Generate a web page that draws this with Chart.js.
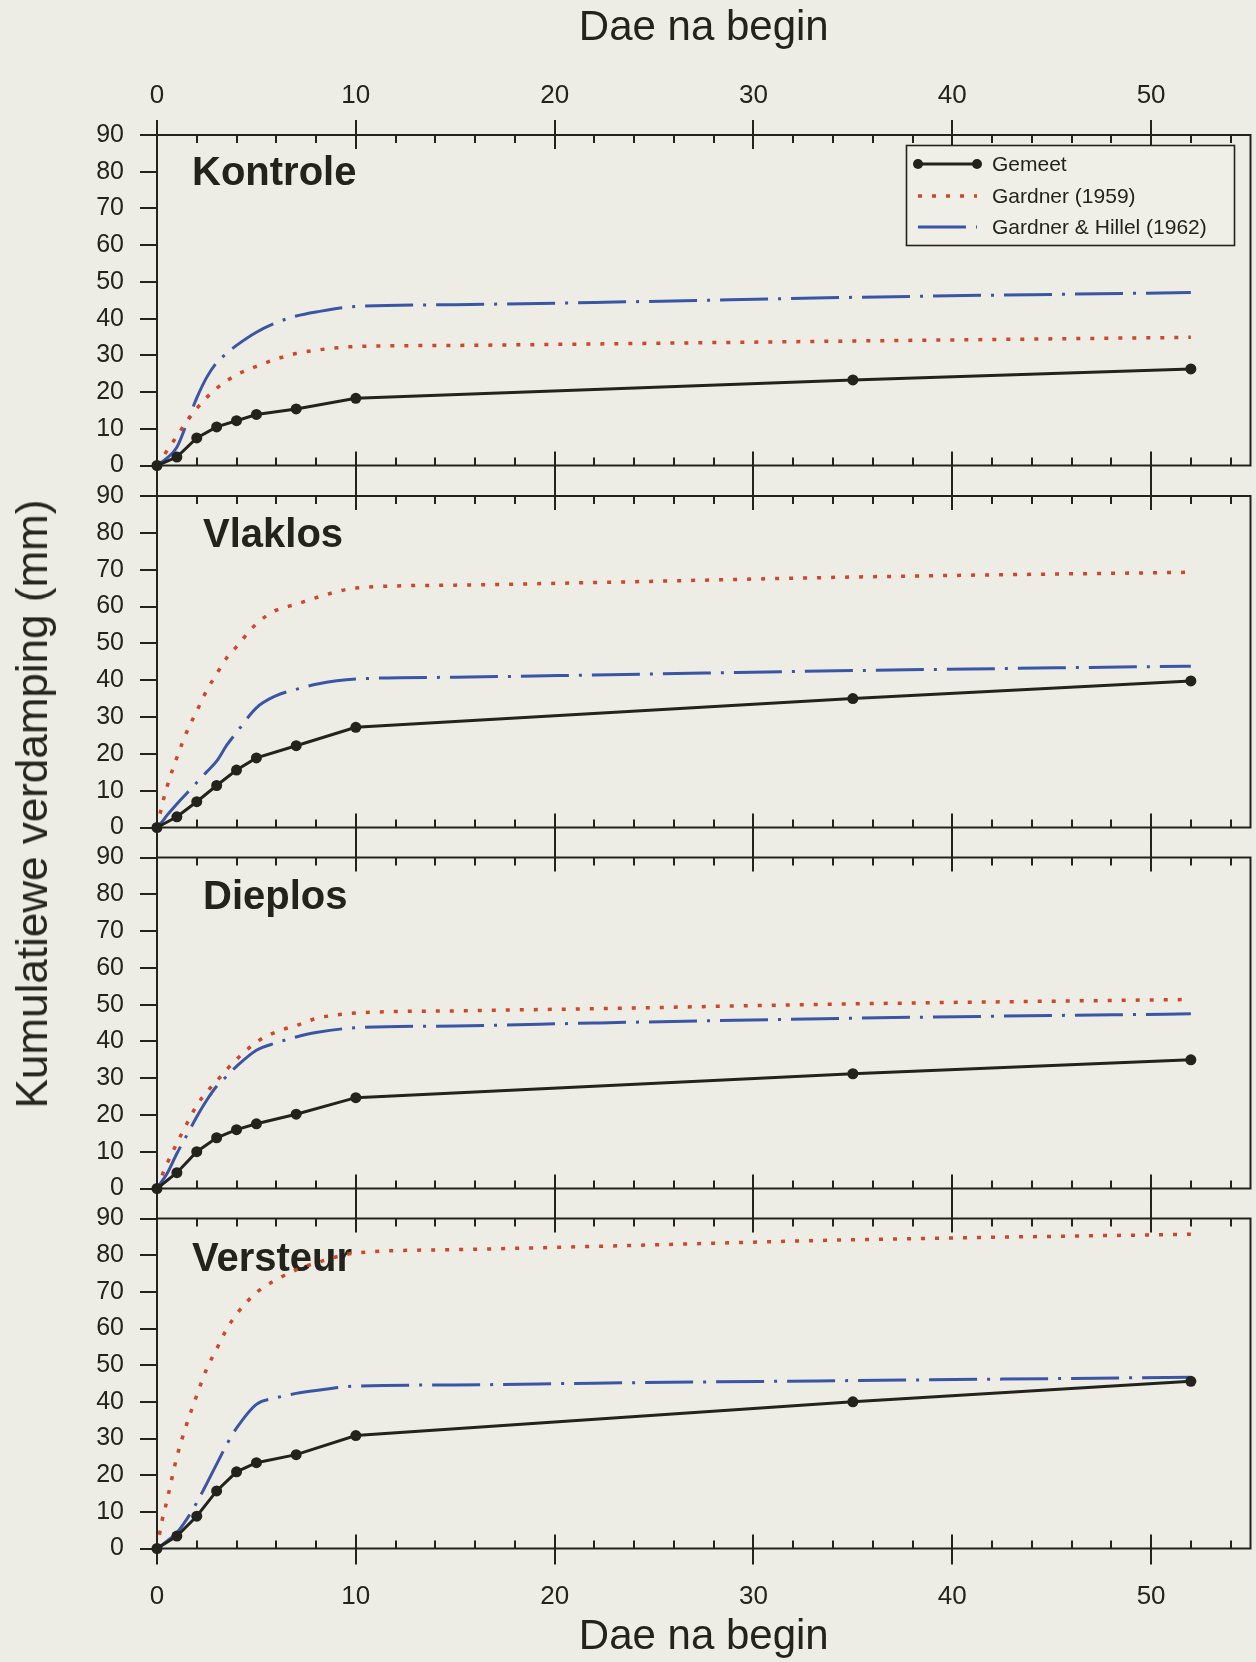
<!DOCTYPE html>
<html><head><meta charset="utf-8">
<script src="https://cdn.jsdelivr.net/npm/chart.js@4/dist/chart.umd.min.js"></script>
<style>
html,body{margin:0;padding:0;background:#eeede5;}
#wrap{position:relative;width:1256px;height:1662px;overflow:hidden;background:#eeede5;}
#wrap canvas{position:absolute;left:0;top:0;}
#ytitle{position:absolute;left:32px;top:804px;transform:translate(-50%,-50%) rotate(-90deg);font:44px "Liberation Sans",Arial,sans-serif;color:#25251f;white-space:nowrap;}
</style></head><body>
<div id="wrap">
<canvas id="c0" width="1256" height="1662"></canvas>
<canvas id="c1" width="1256" height="1662"></canvas>
<canvas id="c2" width="1256" height="1662"></canvas>
<canvas id="c3" width="1256" height="1662"></canvas>
<div id="ytitle">Kumulatiewe verdamping (mm)</div>
</div>
<script>
// ---------- data ----------
const panelNames = ['Kontrole', 'Vlaklos', 'Dieplos', 'Versteur'];
const seriesNames = ['Gemeet', 'Gardner (1959)', 'Gardner & Hillel (1962)'];
const xTitle = 'Dae na begin';
const yTitle = 'Kumulatiewe verdamping (mm)';
const xTickValues = [0, 10, 20, 30, 40, 50];
const yTickValues = [0, 10, 20, 30, 40, 50, 60, 70, 80, 90];

const measuredDays = [0, 1, 2, 3, 4, 5, 7, 10, 35, 52];
const gemeetKontrole = [0, 2.3, 7.5, 10.5, 12.2, 13.9, 15.4, 18.3, 23.3, 26.3];
const gemeetVlaklos  = [0, 2.9, 7.0, 11.4, 15.6, 18.9, 22.2, 27.2, 35.0, 39.8];
const gemeetDieplos  = [0, 4.3, 10.0, 13.8, 16.0, 17.6, 20.2, 24.7, 31.2, 35.0];
const gemeetVersteur = [0, 3.4, 8.8, 15.7, 20.9, 23.4, 25.6, 30.8, 40.0, 45.6];

const modelDays = [0, 0.25, 0.5, 1, 1.5, 2, 2.5, 3, 3.5, 4, 5, 6, 7, 8, 10, 15, 22, 35, 52];
const gardnerKontrole = [0, 2, 4, 8, 12, 15.5, 18.5, 21, 23, 24.7, 27, 29, 30.5, 31.4, 32.4, 32.7, 33.1, 33.9, 34.9];
const hillelKontrole  = [0, 1, 2, 5, 11.5, 18.4, 24, 28, 30.5, 32.7, 36.3, 38.9, 40.7, 41.8, 43.3, 43.8, 44.4, 45.8, 47.1];
const gardnerVlaklos  = [0, 6, 11, 19, 26, 31.6, 37.2, 41.7, 46, 49.1, 55.3, 59, 60.6, 62.4, 65, 65.8, 66.5, 68, 69.3];
const hillelVlaklos   = [0, 1.5, 3.3, 6.4, 9.3, 12.2, 15.1, 18, 22.3, 25.8, 32.5, 35.8, 37.5, 38.9, 40.3, 40.8, 41.4, 42.6, 43.8];
const gardnerDieplos  = [0, 3.5, 6.7, 12.3, 17.6, 22.6, 26.2, 29.2, 32.3, 35.1, 39.8, 42.6, 44.3, 46.2, 47.7, 48.3, 48.9, 50.2, 51.4];
const hillelDieplos   = [0, 2, 4, 9.5, 14.5, 19.5, 24, 27.8, 30.5, 33.2, 37.6, 39.6, 41.2, 42.4, 43.7, 44.2, 45, 46.3, 47.5];
const gardnerVersteur = [0, 7.5, 13, 25, 34, 41.8, 49, 54.4, 59.8, 63.9, 69.8, 73.3, 76, 77.9, 80.6, 81.5, 82.4, 84.2, 85.7];
const hillelVersteur  = [0, 1, 2, 4.3, 8, 12.5, 17.7, 23, 28.3, 32.8, 39.3, 41.1, 42.3, 43.1, 44.3, 44.6, 45.1, 45.8, 46.7];

const gemeetSets  = [gemeetKontrole, gemeetVlaklos, gemeetDieplos, gemeetVersteur];
const gardnerSets = [gardnerKontrole, gardnerVlaklos, gardnerDieplos, gardnerVersteur];
const hillelSets  = [hillelKontrole, hillelVlaklos, hillelDieplos, hillelVersteur];

// ---------- layout / style ----------
const PAGE_H = 1662;
const panelTop    = [135, 496, 857.5, 1218.5];
const panelBottom = [465.5, 827.5, 1188.5, 1548.5];
const titleOffset = [[35, 50], [46, 51], [46, 51], [35, 52]];
const X_MIN = 0, X_MAX = 55, Y_MIN = 0, Y_MAX = 90, MINOR_STEP = 2;
const INK = '#23231d', RED = '#d0462a', BLUE = '#3b55a6';
const FONT = '"Liberation Sans", Arial, Helvetica, sans-serif';

function pts(days, vals) { return days.map((d, i) => ({ x: d, y: vals[i] })); }

const framePlugin = {
  id: 'panelFrame',
  beforeDatasetsDraw(chart, args, opts) {
    const { ctx, chartArea: a, scales: { x } } = chart;
    ctx.save();
    ctx.strokeStyle = INK;
    ctx.lineWidth = 2;
    ctx.strokeRect(a.left, a.top, a.right - a.left, a.bottom - a.top);
    for (let v = X_MIN; v <= X_MAX; v += MINOR_STEP) {
      const px = Math.round(x.getPixelForValue(v));
      const major = v % 10 === 0;
      ctx.beginPath();
      if (major) {
        ctx.moveTo(px, a.top - 15); ctx.lineTo(px, a.top + 14);
        ctx.moveTo(px, a.bottom - 14); ctx.lineTo(px, a.bottom + 16);
      } else {
        ctx.moveTo(px, a.top); ctx.lineTo(px, a.top + 8);
        ctx.moveTo(px, a.bottom - 8); ctx.lineTo(px, a.bottom);
      }
      ctx.stroke();
    }
    // panel title
    ctx.fillStyle = INK;
    ctx.font = 'bold 40px ' + FONT;
    ctx.textBaseline = 'alphabetic';
    ctx.textAlign = 'left';
    ctx.fillText(opts.name, a.left + opts.dx, a.top + opts.dy);
    ctx.restore();
  }
};

const legendPlugin = {
  id: 'boxLegend',
  afterDraw(chart, args, opts) {
    if (!opts.show) return;
    const ctx = chart.ctx;
    ctx.save();
    ctx.fillStyle = '#efeee7';
    ctx.fillRect(906.5, 145.5, 328, 100);
    ctx.strokeStyle = INK;
    ctx.lineWidth = 1.6;
    ctx.strokeRect(906.5, 145.5, 328, 100);
    const rows = [164, 196, 227];
    chart.data.datasets.forEach((ds, i) => {
      const y = rows[i];
      ctx.strokeStyle = ds.borderColor;
      ctx.lineWidth = ds.borderWidth;
      ctx.setLineDash(ds.borderDash || []);
      ctx.beginPath(); ctx.moveTo(918, y); ctx.lineTo(977, y); ctx.stroke();
      ctx.setLineDash([]);
      if (ds.pointRadius > 0) {
        ctx.fillStyle = ds.pointBackgroundColor;
        [918, 977].forEach(px => { ctx.beginPath(); ctx.arc(px, y, 5, 0, Math.PI * 2); ctx.fill(); });
      }
      ctx.fillStyle = INK;
      ctx.font = '21px ' + FONT;
      ctx.textBaseline = 'middle';
      ctx.textAlign = 'left';
      ctx.fillText(ds.label, 992, y + 1);
    });
    ctx.restore();
  }
};

Chart.defaults.font.family = FONT;
Chart.defaults.color = INK;

for (let p = 0; p < 4; p++) {
  const isTop = p === 0, isBottom = p === 3;
  const xScale = {
    type: 'linear', min: X_MIN, max: X_MAX,
    display: isTop || isBottom,
    position: isTop ? 'top' : 'bottom',
    afterBuildTicks: s => { s.ticks = xTickValues.map(v => ({ value: v })); },
    grid: { display: false, drawTicks: false },
    border: { display: false },
    ticks: { font: { size: 26 }, color: INK, padding: isTop ? 24 : 33, autoSkip: false, maxRotation: 0 },
    title: {
      display: true, text: xTitle, color: INK,
      font: { size: 42, lineHeight: 1 },
      padding: isTop ? { top: 7, bottom: 0 } : { top: 0, bottom: 4 }
    },
    afterFit: s => {
      if (isTop) s.height = panelTop[0];
      else if (isBottom) s.height = PAGE_H - panelBottom[3];
      else s.height = 0;
    }
  };
  const yScale = {
    type: 'linear', min: Y_MIN, max: Y_MAX,
    afterBuildTicks: s => { s.ticks = yTickValues.map(v => ({ value: v })); },
    grid: { drawOnChartArea: false, drawTicks: true, tickLength: 17, color: INK, lineWidth: 2 },
    border: { display: false },
    ticks: { font: { size: 25 }, color: INK, padding: 16, autoSkip: false },
    afterFit: s => { s.width = 157; }
  };
  const padding = {
    left: 0, right: 4,
    top: isTop ? 0 : panelTop[p],
    bottom: isBottom ? 0 : PAGE_H - panelBottom[p]
  };
  new Chart(document.getElementById('c' + p), {
    type: 'line',
    data: {
      datasets: [
        { label: seriesNames[0], data: pts(measuredDays, gemeetSets[p]),
          borderColor: INK, backgroundColor: INK, borderWidth: 3,
          pointRadius: 5.5, pointBackgroundColor: INK, pointBorderColor: INK, pointBorderWidth: 0,
          tension: 0, clip: false },
        { label: seriesNames[1], data: pts(modelDays, gardnerSets[p]),
          borderColor: RED, borderWidth: 3.5, borderDash: [4, 10], borderCapStyle: 'butt',
          pointRadius: 0, cubicInterpolationMode: 'monotone', clip: false },
        { label: seriesNames[2], data: pts(modelDays, hillelSets[p]),
          borderColor: BLUE, borderWidth: 3, borderDash: [48, 10, 3, 10], borderCapStyle: 'butt',
          pointRadius: 0, cubicInterpolationMode: 'monotone', clip: false }
      ]
    },
    options: {
      responsive: false, animation: false, devicePixelRatio: 1,
      layout: { padding },
      scales: { x: xScale, y: yScale },
      plugins: {
        legend: { display: false }, tooltip: { enabled: false },
        panelFrame: { name: panelNames[p], dx: titleOffset[p][0], dy: titleOffset[p][1] },
        boxLegend: { show: isTop }
      }
    },
    plugins: [framePlugin, legendPlugin]
  });
}
</script>
</body></html>
